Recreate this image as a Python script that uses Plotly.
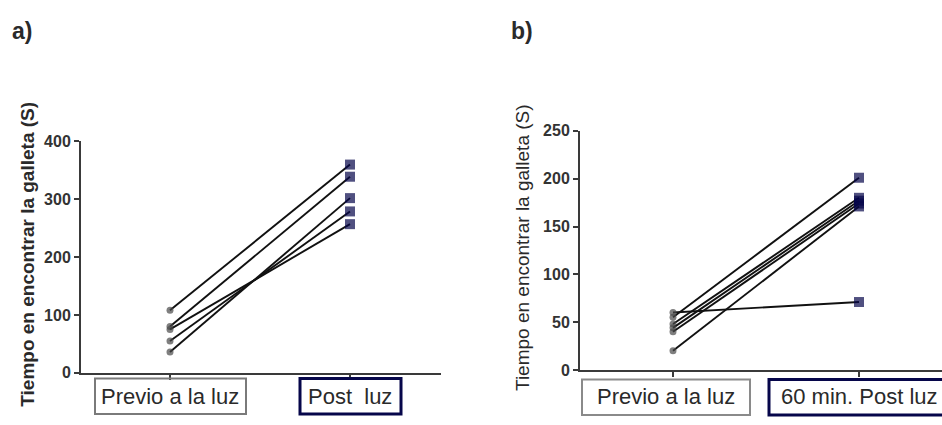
import plotly.graph_objects as go

# ---- data ----
categories = ["Previo a la luz", "Post  luz"]
categories_b = ["Previo a la luz", "60 min. Post luz"]

a_previo = [108, 80, 75, 55, 36]
a_post = [360, 339, 257, 279, 302]

b_previo = [55, 60, 48, 44, 40, 20]
b_post = [201, 71, 180, 177, 174, 171]

a_yticks = [0, 100, 200, 300, 400]
b_yticks = [0, 50, 100, 150, 200, 250]

ytitle = "Tiempo en encontrar la galleta (S)"

W, H = 942, 425
def px(x):
    return x / W
def py(y):
    return 1 - y / H

GRAY = "#484848"
NAVY = "#06064a"
AX = "#3a3a3a"
TXT = "#2a2a2a"
FONT = "Liberation Sans, Arial, sans-serif"

fig = go.Figure()

def add_pairs(pre_vals, post_vals, xa, ya):
    for pre, post in zip(pre_vals, post_vals):
        fig.add_trace(go.Scatter(
            x=[0, 1], y=[pre, post], mode="lines+markers", xaxis=xa, yaxis=ya,
            line=dict(color="#111111", width=1.9),
            marker=dict(symbol=["circle", "square"], color=[GRAY, NAVY], size=[7, 10],
                        line=dict(width=0)),
            showlegend=False, hoverinfo="skip", cliponaxis=False))

add_pairs(a_previo, a_post, "x", "y")
add_pairs(b_previo, b_post, "x2", "y2")

common_x = dict(showgrid=False, zeroline=False, showline=True, linecolor=AX, linewidth=2,
                ticks="outside", ticklen=5, tickwidth=2, tickcolor=AX,
                tickvals=[0, 1], showticklabels=False, fixedrange=True)
common_y = dict(showgrid=False, zeroline=False, showline=True, linecolor=AX, linewidth=2,
                ticks="outside", ticklen=5, tickwidth=2, tickcolor=AX,
                tickfont=dict(family=FONT, size=16, color="#333333", weight="bold"),
                fixedrange=True)

fig.update_layout(
    width=W, height=H,
    margin=dict(l=0, r=0, t=0, b=0),
    paper_bgcolor="white", plot_bgcolor="white",
    xaxis=dict(domain=[px(81), px(441)], range=[-(170 - 81) / 180, 1 + (441 - 350) / 180],
               anchor="y", **common_x),
    yaxis=dict(domain=[py(380), py(139)], range=[0, 400], tickvals=a_yticks,
               anchor="x", **common_y),
    xaxis2=dict(domain=[px(580), 1.0], range=[-(673 - 580) / 186, 1 + (942 - 859) / 186],
                anchor="y2", **common_x),
    yaxis2=dict(domain=[py(377), py(128)], range=[0, 250], tickvals=b_yticks,
                anchor="x2", **common_y),
)

ann = []
shapes = []
def label(text, x, y, size, bold=False, angle=0, xanchor="center"):
    f = dict(family=FONT, size=size, color=TXT)
    if bold:
        f["weight"] = "bold"
    ann.append(dict(text=text, x=px(x), y=py(y), xref="paper", yref="paper", showarrow=False,
                    xanchor=xanchor, yanchor="middle", textangle=angle, font=f))

# panel letters
label("a)", 22, 24, 23, bold=True)
label("b)", 522, 24, 23, bold=True)
# y titles
label(ytitle, 28, 257, 19, bold=True, angle=-90)
label(ytitle, 522, 250, 19, angle=-90)

# category boxes (frames) and texts
def box(x0, x1, y0, y1, color, width):
    shapes.append(dict(type="rect", xref="paper", yref="paper",
                       x0=px(x0), x1=px(x1), y0=py(y1), y1=py(y0),
                       line=dict(color=color, width=width), fillcolor="rgba(0,0,0,0)"))

box(95, 246, 386, 423, "#7a7a7a", 2)
box(300, 401, 386, 423, NAVY, 3)
box(582, 750, 387, 424, "#8a8a8a", 2)
box(769, 960, 387, 424, NAVY, 3)

label(categories[0], 170, 405, 22)
label(categories[1], 350, 405, 22)
label(categories_b[0], 666, 405, 22)
label(categories_b[1], 779, 405, 22, xanchor="left")

fig.update_layout(annotations=ann, shapes=shapes)

fig.write_html("out.html",
               config={"displayModeBar": False},
               post_script="document.body.style.margin='0';document.body.style.padding='0';"
                           "document.documentElement.style.overflow='hidden';")
